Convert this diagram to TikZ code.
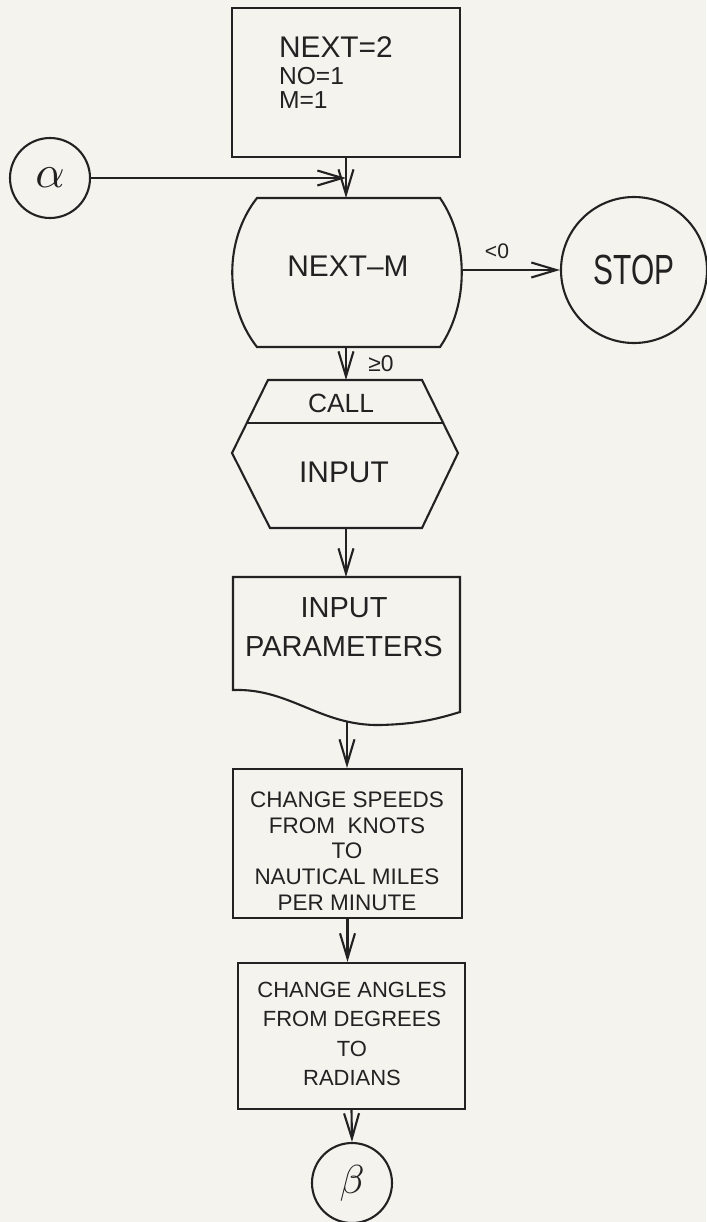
\documentclass[tikz,border=0pt]{standalone}
\usepackage{fontspec}
\setmainfont{Liberation Sans}
\usetikzlibrary{arrows.meta,calc}
\definecolor{paper}{HTML}{F4F3EE}
\definecolor{ink}{HTML}{222222}
\begin{document}
\begin{tikzpicture}[x=0.2mm,y=-0.2mm,
  line width=0.42mm, draw=ink, text=ink,
  flow/.style={-{Straight Barb[length=5mm,width=3mm,line width=0.42mm]}},
  boxnode/.style={draw, inner sep=0pt},
  circnode/.style={draw, circle, inner sep=0pt},
  lbl/.style={inner sep=0pt, font=\fontsize{12.8}{14.65}\selectfont, align=center},
]
\fill[paper] (0,0) rectangle (706,1222);
\useasboundingbox (0,0) rectangle (706,1222);

% initial box
\node[boxnode, minimum width=45.6mm, minimum height=29.8mm] (init) at (346,82.5) {};
\node[anchor=base west, inner sep=0pt, font=\fontsize{17}{19}\selectfont] (t1) at (278,57) {NEXT=2};
\node[anchor=base west, inner sep=0pt, font=\fontsize{14}{16}\selectfont] (t2) at (278,84) {NO=1};
\node[anchor=base west, inner sep=0pt, font=\fontsize{14}{16}\selectfont] (t3) at (278,108) {M=1};

% alpha connector
\node[circnode, minimum size=16mm] (alpha) at (50,178) {\scalebox{2.6}{$\alpha$}};
\coordinate (merge) at (346,178);

% decision NEXT-M
\draw (257,198) -- (440,198) .. controls (469,240) and (469,305) .. (440,347)
  -- (257,347) .. controls (224,305) and (224,240) .. cycle;
\coordinate (dtop) at (346,198);
\coordinate (dbot) at (346,347);
\coordinate (dright) at (462,270);
\node[inner sep=0pt, font=\fontsize{17}{19}\selectfont] (decide) at (348,266) {NEXT--M};

% STOP
\node[circnode, minimum size=29.2mm] (stop) at (634,270) {\scalebox{0.85}[1.2]{\fontsize{20}{22}\selectfont STOP}};
\node[inner sep=0pt, font=\fontsize{12}{14}\selectfont] (ltz) at (497,251) {<0};

% CALL / INPUT hexagon
\draw (268,380) -- (422,380) -- (458,453) -- (422,528) -- (270,528) -- (232,453) -- cycle;
\draw ($(268,380)!0.59!(232,453)$) -- ($(422,380)!0.59!(458,453)$);
\coordinate (htop) at (346,380);
\coordinate (hbot) at (346,528);
\node[inner sep=0pt, font=\fontsize{15}{17}\selectfont] (call) at (341,403) {CALL};
\node[inner sep=0pt, font=\fontsize{17}{19}\selectfont] (inp) at (344,472) {INPUT};
\node[inner sep=0pt, font=\fontsize{13}{15}\selectfont] (gez) at (381,364) {≥0};

% document INPUT PARAMETERS
\draw (233,577) -- (460,577) -- (460,712) .. controls (440,718) and (420,724) .. (380,725)
  .. controls (320,726) and (290,688) .. (233,690) -- cycle;
\coordinate (doctop) at (346,577);
\coordinate (docbot) at (347,722);
\node[inner sep=0pt, font=\fontsize{16.5}{22}\selectfont, align=center] (doc) at (344,627) {INPUT\\PARAMETERS};

% process boxes
\node[boxnode, minimum width=45.8mm, minimum height=29.8mm] (speed) at (347.5,843.5) {};
\node[lbl] (speedtxt) at (347,851) {CHANGE SPEEDS\\FROM\ \ KNOTS\\TO\\NAUTICAL MILES\\PER MINUTE};
\node[boxnode, minimum width=45.4mm, minimum height=29.2mm] (angle) at (351.5,1036) {};
\node[lbl, font=\fontsize{12.5}{16.7}\selectfont] (angletxt) at (352,1034) {CHANGE ANGLES\\FROM DEGREES\\TO\\RADIANS};

% beta connector
\node[circnode, minimum size=16mm] (beta) at (352,1183) {\scalebox{2.3}{$\beta$}};

% connectors
\draw (init.south) -- (merge);
\draw[flow] (merge) -- (dtop);
\draw[flow] (alpha.east) -- (merge);
\draw[flow] (dright) -- (stop.west);
\draw[flow] (dbot) -- (htop);
\draw[flow] (hbot) -- (doctop);
\draw[flow] (docbot) -- (docbot |- speed.north);
\draw[flow] (speed.south) -- (speed.south |- angle.north);
\draw[flow] (angle.south) -- (beta.north);
\end{tikzpicture}
\end{document}
